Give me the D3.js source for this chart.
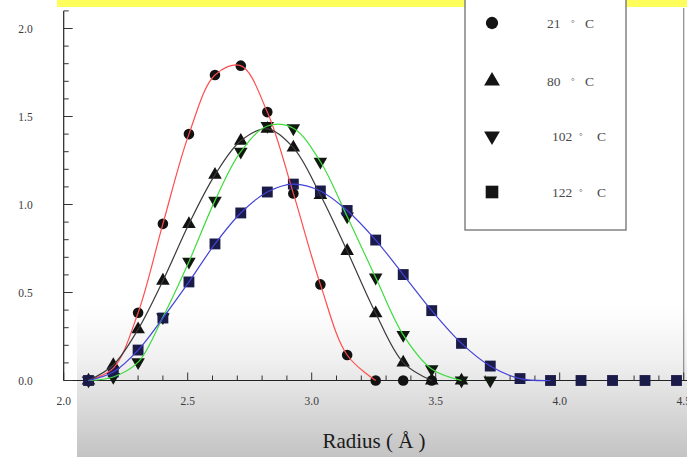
<!DOCTYPE html>
<html>
<head>
<meta charset="utf-8">
<script src="https://cdn.jsdelivr.net/npm/d3@7/dist/d3.min.js"></script>
<style>
  html, body { margin: 0; padding: 0; background: #fff; }
  svg { display: block; }
  text { font-family: "Liberation Serif", "Times New Roman", serif; }
</style>
</head>
<body>
<svg id="chart" width="687" height="457"></svg>
<script>
// Radial distribution samples (radius in Å)
const radius = [2.10, 2.20, 2.30, 2.40, 2.505, 2.61, 2.714, 2.821, 2.926, 3.035, 3.143,
                3.258, 3.369, 3.484, 3.604, 3.72, 3.84, 3.963, 4.086, 4.213, 4.344, 4.471];

// g(r) at each temperature; shorter series stop a couple of samples after the tail
const g21  = [0, 0.07, 0.385, 0.89, 1.40, 1.736, 1.789, 1.525, 1.063, 0.546, 0.145,
              0, 0, 0];
const g80  = [0, 0.088, 0.291, 0.567, 0.889, 1.168, 1.362, 1.43, 1.323, 1.054, 0.736,
              0.382, 0.102, 0, 0];
const g102 = [0, 0.02, 0.104, 0.36, 0.675, 1.022, 1.30, 1.446, 1.433, 1.243, 0.932,
              0.585, 0.259, 0.065, 0, 0];
const g122 = [0, 0.048, 0.173, 0.355, 0.56, 0.776, 0.952, 1.071, 1.116, 1.077, 0.966,
              0.798, 0.602, 0.397, 0.211, 0.082, 0.011, 0, 0, 0, 0, 0];

const temps = ["21", "80", "102", "122"];
const xTicks = [2.0, 2.5, 3.0, 3.5, 4.0, 4.5];
const yTicks = [0.0, 0.5, 1.0, 1.5, 2.0];

const series = [
  { temp: temps[0], values: g21,  symbol: d3.symbolCircle,   rot: 0,   size: 88,  fill: "#121212", line: "#ff4d4d" },
  { temp: temps[1], values: g80,  symbol: d3.symbolTriangle, rot: 0,   size: 80,  fill: "#121212", line: "#3a3a3a" },
  { temp: temps[2], values: g102, symbol: d3.symbolTriangle, rot: 180, size: 80,  fill: "#101810", line: "#3fdc3f" },
  { temp: temps[3], values: g122, symbol: d3.symbolSquare,   rot: 0,   size: 118, fill: "#1b1b4a", line: "#4343d6" }
];

const svg = d3.select("#chart");
const W = 687, H = 457;

const x = d3.scaleLinear().domain([2.0, 4.5]).range([63.7, 683.7]);
const y = d3.scaleLinear().domain([0, 2.1]).range([380.5, 10.9]);

// background shading along the bottom
const defs = svg.append("defs");
const grad = defs.append("linearGradient").attr("id", "floor")
  .attr("x1", 0).attr("y1", 0).attr("x2", 0).attr("y2", 1);
grad.append("stop").attr("offset", "0%").attr("stop-color", "#ffffff");
grad.append("stop").attr("offset", "35%").attr("stop-color", "#f1f1f1");
grad.append("stop").attr("offset", "100%").attr("stop-color", "#c3c3c3");
svg.append("rect").attr("x", 77).attr("y", 305).attr("width", W - 77).attr("height", H - 305)
  .attr("fill", "url(#floor)");

// top banner strip
svg.append("rect").attr("x", 57).attr("y", 0).attr("width", W - 57).attr("height", 7)
  .attr("fill", "#fdfd5c");

// right frame line
svg.append("line").attr("x1", x(4.5)).attr("x2", x(4.5)).attr("y1", 8).attr("y2", y(0))
  .attr("stroke", "#8a8a8a").attr("stroke-width", 1.2);

// legend box
svg.append("rect").attr("x", 465).attr("y", -5).attr("width", 161).attr("height", 235)
  .attr("fill", "#fff").attr("stroke", "#7a7a7a").attr("stroke-width", 1.4);

// axes
const xAxisG = svg.append("g").attr("transform", `translate(0,${y(0)})`);
xAxisG.append("line").attr("x1", x(2.0)).attr("x2", W).attr("stroke", "#222").attr("stroke-width", 1.2);
const xMinor = d3.range(20, 46).map(d => d / 10);
xAxisG.selectAll("line.tk").data(xMinor).join("line").attr("class", "tk")
  .attr("x1", d => x(d)).attr("x2", d => x(d))
  .attr("y1", 0).attr("y2", (d, i) => (i % 5 === 0 ? -8 : -5))
  .attr("stroke", "#333").attr("stroke-width", 1);
xAxisG.selectAll("text").data(xTicks).join("text")
  .attr("x", d => x(d)).attr("y", 24)
  .attr("text-anchor", "middle").attr("font-size", 11.5).attr("fill", "#3a3a3a")
  .text(d => d.toFixed(1));

const yAxisG = svg.append("g").attr("transform", `translate(${x(2.0)},0)`);
yAxisG.append("line").attr("y1", y(0)).attr("y2", y(2.1)).attr("stroke", "#222").attr("stroke-width", 1.2);
const yMinor = d3.range(0, 22).map(d => d / 10);
yAxisG.selectAll("line.tk").data(yMinor).join("line").attr("class", "tk")
  .attr("y1", d => y(d)).attr("y2", d => y(d))
  .attr("x1", 0).attr("x2", (d, i) => (i % 5 === 0 ? 9 : 5))
  .attr("stroke", "#333").attr("stroke-width", 1);
yAxisG.selectAll("text").data(yTicks).join("text")
  .attr("x", -31).attr("y", d => y(d) + 4)
  .attr("text-anchor", "end").attr("font-size", 11.5).attr("fill", "#3a3a3a")
  .text(d => d.toFixed(1));

// axis title
svg.append("text").attr("x", 374).attr("y", 448).attr("text-anchor", "middle")
  .attr("font-size", 21).attr("fill", "#1a1a1a").text("Radius ( Å )");

// markers
series.forEach(s => {
  const sym = d3.symbol().type(s.symbol).size(s.size);
  svg.append("g").selectAll("path").data(s.values.map((v, i) => [radius[i], v])).join("path")
    .attr("d", sym)
    .attr("transform", d => `translate(${x(d[0])},${y(d[1])}) rotate(${s.rot})`)
    .attr("fill", s.fill);
});

// smooth curves through each series, up to the first zero after the peak
const line = d3.line().x(d => x(d[0])).y(d => y(d[1])).curve(d3.curveCatmullRom.alpha(0.5));
series.forEach(s => {
  const peak = s.values.indexOf(d3.max(s.values));
  let end = s.values.findIndex((v, i) => i > peak && v === 0);
  if (end < 0) end = s.values.length - 1;
  const pts = s.values.slice(0, end + 1).map((v, i) => [radius[i], v]);
  svg.append("path").attr("d", line(pts)).attr("fill", "none")
    .attr("stroke", s.line).attr("stroke-width", 1.2);
});

// legend entries
const legendY = [23, 81, 136, 192];
const lg = svg.append("g");
series.forEach((s, i) => {
  const sym = d3.symbol().type(s.symbol).size(s.size * 1.35);
  lg.append("path").attr("d", sym)
    .attr("transform", `translate(492,${legendY[i]}) rotate(${s.rot})`)
    .attr("fill", "#141414");
  const wide = s.temp.length > 2;
  const x0 = wide ? 552 : 547;
  const t = lg.append("text").attr("x", x0).attr("y", legendY[i] + 5)
    .attr("font-size", 13.5).attr("fill", "#4a4a4a");
  t.append("tspan").text(s.temp);
  t.append("tspan").attr("x", wide ? 579 : 571).attr("dy", -2).attr("font-size", 9).text("°");
  t.append("tspan").attr("x", wide ? 597 : 585).attr("dy", 2).text("C");
});
</script>
</body>
</html>
